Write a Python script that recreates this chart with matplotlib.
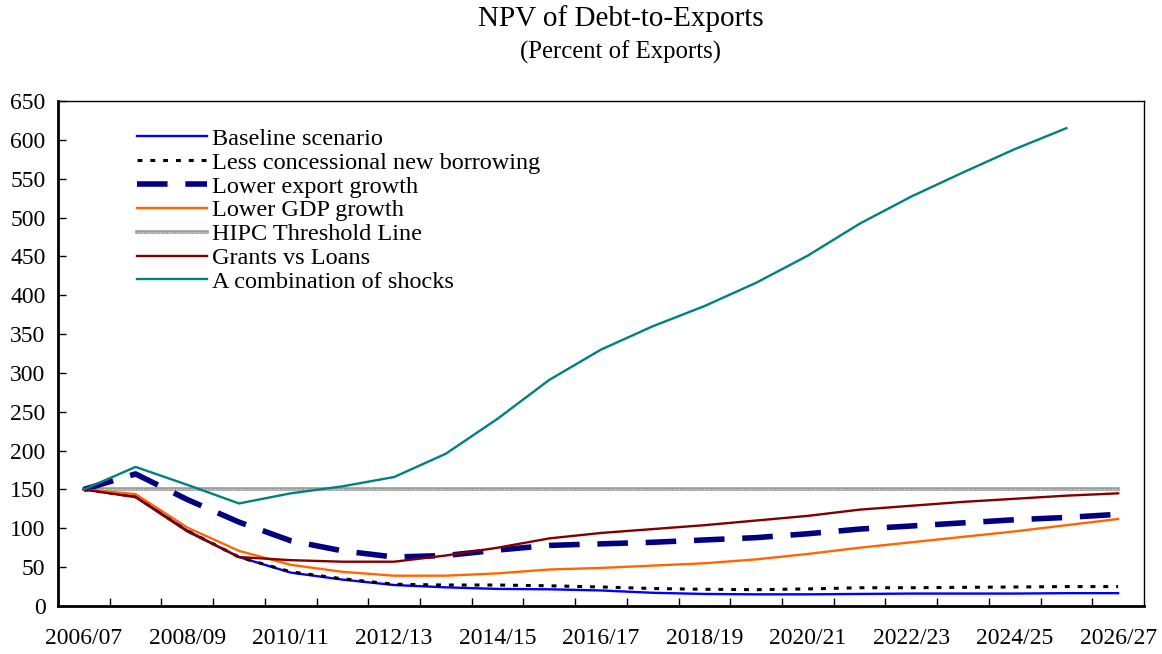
import matplotlib
matplotlib.use("Agg")
import matplotlib.pyplot as plt
import numpy as np

plt.rcParams['font.family'] = ['Liberation Serif', 'DejaVu Serif']

years = ["2006/07", "2007/08", "2008/09", "2009/10", "2010/11", "2011/12", "2012/13",
         "2013/14", "2014/15", "2015/16", "2016/17", "2017/18", "2018/19", "2019/20",
         "2020/21", "2021/22", "2022/23", "2023/24", "2024/25", "2025/26", "2026/27"]

baseline = [150, 141, 97, 63, 43, 34, 27, 24, 22, 21.5, 20, 17, 15.5, 15, 15, 15.5, 16, 16, 16, 16.5, 16.5]
less_concessional = [150, 141, 97, 63, 44, 35, 28, 27, 27, 26, 24.5, 22.5, 21.5, 21, 22, 23.5, 23.5, 24, 24.5, 25, 25]
lower_export = [150, 170, 137, 108, 84, 71, 63, 65, 72, 78, 80, 82, 85, 88, 93, 99, 103, 107, 111, 114, 118]
lower_gdp = [150, 144, 101, 71, 53, 44, 39, 39, 42, 47, 49, 52, 55, 60, 67, 75, 82, 89, 96, 104, 112]
hipc_threshold = [150] * 21
grants_vs_loans = [150, 140, 96, 63, 59, 57, 57, 65, 75, 87, 94, 99, 104, 110, 116, 124, 129, 134, 138, 142, 145]
combination = [150, 179, 156, 132, 145, 154, 166, 196, 241, 291, 330, 360, 386, 416, 451, 492, 527, 558, 588, 615, np.nan]

fig = plt.figure(figsize=(11.62, 6.54), dpi=100)
ax = fig.add_axes([0.0499, 0.0734, 0.9346, 0.7722])

x = np.arange(len(years))
h1, = ax.plot(x, baseline, color='#0000ff', lw=1.7, zorder=3)
h2, = ax.plot(x, less_concessional, color='black', lw=2.2, linestyle=(0, (1.6, 2.6)), zorder=3)
h3, = ax.plot(x, lower_export, color='#000080', lw=4.0, linestyle=(0, (5.5, 3.2)), zorder=3)
h4, = ax.plot(x, lower_gdp, color='#ff6600', lw=1.7, zorder=3)
h5a, = ax.plot(x, hipc_threshold, color='#9a9a9a', lw=2.6, zorder=2)
h5b, = ax.plot(x, hipc_threshold, color='#e6e6e6', lw=0.8, linestyle=(0, (1, 1.5)), zorder=2)
h6, = ax.plot(x, grants_vs_loans, color='#800000', lw=1.7, zorder=3)
h7, = ax.plot(x, combination, color='#008080', lw=1.7, zorder=3)

ax.set_xlim(-0.5, len(years) - 0.5)
ax.set_ylim(0, 650)
ax.set_yticks(np.arange(0, 651, 50))
ax.set_xticks(x[::2])
ax.set_xticklabels(years[::2])
ax.set_xticks(np.arange(0.5, len(years) - 1, 1), minor=True)
ax.tick_params(axis='x', which='major', length=0, pad=16, labelsize=17)
ax.tick_params(axis='x', which='minor', direction='in', length=6, width=1)
ax.tick_params(axis='y', direction='in', length=6, width=1, pad=9, labelsize=17)

for s in ['left', 'bottom']:
    ax.spines[s].set_linewidth(2)
for s in ['top', 'right']:
    ax.spines[s].set_linewidth(1)

labels = ['Baseline scenario', 'Less concessional new borrowing', 'Lower export growth',
          'Lower GDP growth', 'HIPC Threshold Line', 'Grants vs Loans', 'A combination of shocks']
leg = ax.legend([h1, h2, h3, h4, (h5a, h5b), h6, h7], labels,
                loc='upper left', bbox_to_anchor=(0.0635, 0.966), frameon=False,
                fontsize=17.5, handlelength=2.9, handletextpad=0.2, labelspacing=0.075,
                borderaxespad=0)

fig.text(0.534, 0.972, 'NPV of Debt-to-Exports', ha='center', va='center', fontsize=21)
fig.text(0.534, 0.920, '(Percent of Exports)', ha='center', va='center', fontsize=17.8)

fig.savefig('out.png', dpi=100)
